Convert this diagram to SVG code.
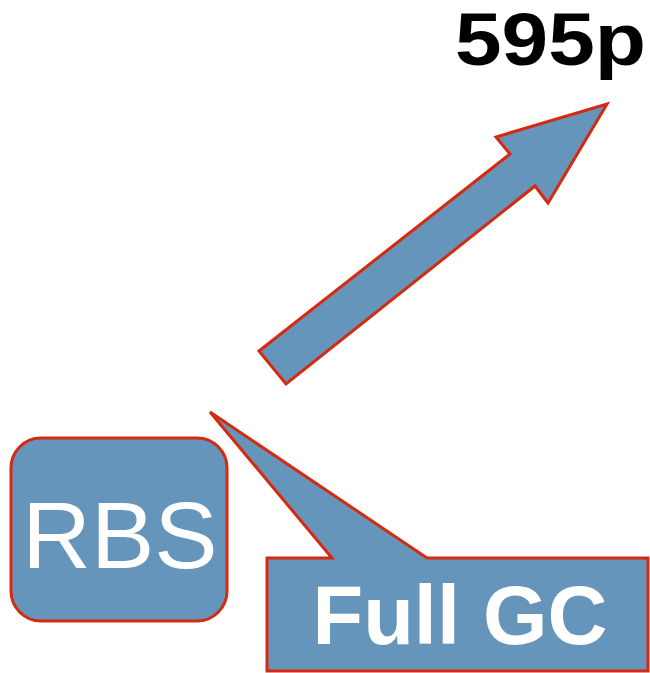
<svg xmlns="http://www.w3.org/2000/svg" width="650" height="673" viewBox="0 0 650 673">
  <style>
    .shape { fill: #6595bb; stroke: #d42a10; stroke-width: 3; stroke-linejoin: miter; }
    .label { font-family: "Liberation Sans", Arial, sans-serif; fill: #ffffff; }
  </style>
  <rect width="650" height="673" fill="#ffffff"/>

  <!-- heading -->
  <g id="title">
    <text x="455" y="65" textLength="191" lengthAdjust="spacingAndGlyphs" font-family="Liberation Sans, Arial, sans-serif" font-weight="bold" font-size="75" fill="#000000">595p</text>
  </g>

  <!-- rising arrow -->
  <g id="connectors">
    <polygon class="shape" points="259,351 510,154 496,137 607,104 548,203 535,186 286,384"/>
  </g>

  <!-- RBS box -->
  <g id="rbs">
    <rect class="shape" x="11" y="438" width="216" height="183" rx="30" ry="30"/>
    <text class="label" x="120" y="568" text-anchor="middle" font-size="95">RBS</text>
  </g>

  <!-- Full GC callout -->
  <g id="full-gc">
    <polygon class="shape" points="267,558 332,558 210,412 427,558 648,558 648,671 267,671"/>
    <text class="label" x="460" y="644" text-anchor="middle" font-size="83" font-weight="bold">Full GC</text>
  </g>
</svg>
